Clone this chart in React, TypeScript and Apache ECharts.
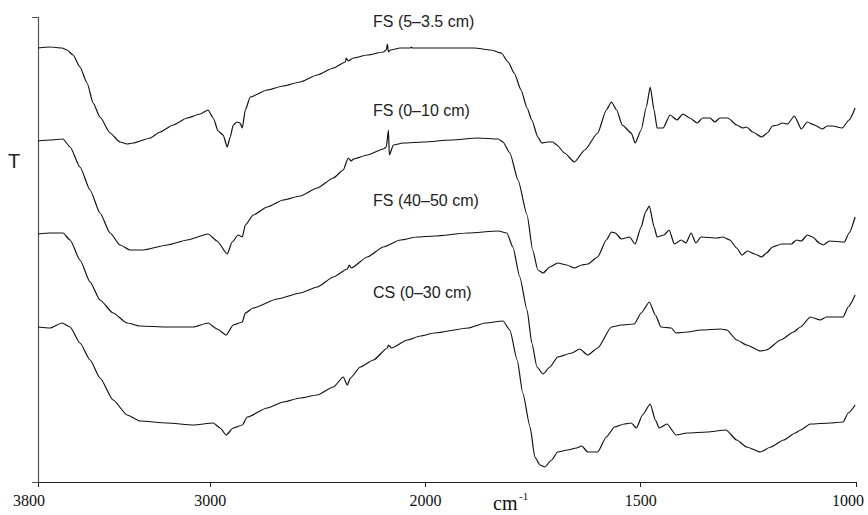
import React, { useEffect, useRef } from "react";
import * as echarts from "echarts";

// Wavenumber tick labels (cm-1); the axis is expanded 2x below 2000 cm-1
const tickWavenumbers = [3800, 3000, 2000, 1500, 1000];
const seriesNames = ["FS (5–3.5 cm)", "FS (0–10 cm)", "FS (40–50 cm)", "CS (0–30 cm)"];

// [wavenumber cm-1, transmittance (arbitrary, offset)]
const fs535 = [
  [3800, 434], [3744, 435], [3688, 434], [3665, 432], [3637, 427], [3605, 415], [3572, 399], [3544, 379],
  [3512, 365], [3465, 349], [3419, 340], [3386, 338], [3358, 339], [3279, 344], [3233, 350], [3172, 357],
  [3107, 364], [3047, 368], [3010, 372], [2986, 364], [2963, 351], [2940, 347], [2921, 335], [2907, 345],
  [2893, 357], [2875, 360], [2861, 359], [2851, 354], [2837, 372], [2814, 385], [2735, 392], [2661, 396],
  [2582, 400], [2503, 407], [2428, 414], [2372, 420], [2368, 424], [2359, 421], [2335, 424], [2270, 427],
  [2196, 430], [2182, 432], [2177, 438], [2172, 430], [2163, 432], [2117, 434], [2070, 434], [2066, 435],
  [2061, 434], [1979, 434], [1887, 434], [1848, 432], [1824, 429], [1808, 420], [1794, 409], [1778, 392],
  [1764, 374], [1753, 362], [1739, 345], [1730, 339], [1716, 340], [1704, 340], [1695, 337], [1677, 329],
  [1654, 320], [1630, 332], [1600, 349], [1580, 372], [1568, 380], [1556, 372], [1543, 357], [1522, 349],
  [1513, 339], [1499, 352], [1487, 375], [1478, 395], [1469, 372], [1462, 354], [1448, 354], [1432, 367],
  [1416, 362], [1402, 368], [1386, 364], [1369, 359], [1356, 364], [1339, 364], [1328, 360], [1316, 364],
  [1298, 364], [1277, 357], [1263, 354], [1254, 355], [1240, 350], [1219, 345], [1206, 349], [1194, 356],
  [1182, 357], [1171, 359], [1159, 358], [1143, 366], [1127, 353], [1113, 360], [1097, 357], [1078, 353],
  [1067, 356], [1055, 356], [1032, 354], [1016, 362], [1002, 374],
];

const fs010 = [
  [3800, 341], [3744, 342], [3684, 343], [3651, 335], [3605, 315], [3558, 292], [3512, 269], [3465, 249],
  [3419, 237], [3372, 232], [3312, 232], [3200, 237], [3107, 242], [3010, 248], [2968, 241], [2921, 228],
  [2898, 240], [2870, 247], [2851, 245], [2837, 257], [2800, 267], [2735, 275], [2661, 282], [2582, 286],
  [2503, 294], [2428, 304], [2382, 312], [2359, 324], [2345, 321], [2335, 323], [2270, 327], [2196, 333],
  [2182, 335], [2172, 352], [2168, 327], [2149, 337], [2103, 339], [2010, 340], [1940, 342], [1878, 344],
  [1831, 343], [1820, 340], [1804, 329], [1785, 302], [1764, 267], [1751, 232], [1739, 212], [1727, 209],
  [1711, 215], [1693, 219], [1672, 217], [1654, 214], [1637, 217], [1623, 218], [1600, 225], [1580, 242],
  [1568, 250], [1559, 249], [1545, 243], [1526, 245], [1513, 238], [1499, 255], [1489, 270], [1480, 276],
  [1469, 255], [1462, 245], [1446, 247], [1434, 252], [1422, 238], [1406, 242], [1395, 239], [1383, 249],
  [1372, 239], [1360, 245], [1323, 244], [1309, 245], [1293, 242], [1277, 234], [1265, 227], [1252, 231],
  [1235, 228], [1219, 225], [1208, 229], [1194, 235], [1173, 238], [1150, 238], [1138, 242], [1127, 241],
  [1113, 247], [1101, 245], [1085, 239], [1076, 237], [1062, 241], [1027, 240], [1016, 249], [1002, 265],
];

const fs4050 = [
  [3800, 248], [3744, 249], [3684, 249], [3651, 242], [3605, 222], [3558, 200], [3512, 182], [3451, 169],
  [3386, 159], [3326, 156], [3200, 155], [3079, 155], [3010, 159], [2968, 153], [2926, 147], [2893, 157],
  [2851, 160], [2837, 169], [2800, 174], [2689, 183], [2582, 189], [2503, 195], [2428, 205], [2363, 213],
  [2354, 217], [2345, 214], [2270, 225], [2196, 235], [2117, 242], [2038, 245], [1979, 246], [1901, 249],
  [1831, 251], [1811, 249], [1797, 235], [1781, 205], [1764, 172], [1753, 139], [1741, 115], [1727, 108],
  [1711, 115], [1693, 125], [1660, 129], [1642, 133], [1623, 127], [1600, 134], [1568, 155], [1545, 157],
  [1515, 158], [1499, 169], [1480, 180], [1466, 167], [1453, 155], [1429, 154], [1418, 149], [1392, 150],
  [1360, 152], [1314, 153], [1300, 152], [1277, 142], [1254, 137], [1222, 131], [1208, 132], [1175, 142],
  [1145, 150], [1129, 155], [1106, 165], [1083, 162], [1069, 165], [1030, 165], [1018, 175], [1002, 187],
];

const cs030 = [
  [3800, 155], [3744, 154], [3688, 159], [3651, 155], [3605, 139], [3558, 122], [3512, 104], [3451, 82],
  [3386, 67], [3326, 61], [3200, 59], [3079, 57], [2986, 59], [2954, 54], [2926, 47], [2893, 54],
  [2851, 57], [2828, 65], [2735, 74], [2661, 80], [2582, 84], [2503, 87], [2428, 95], [2382, 105],
  [2363, 97], [2349, 104], [2303, 115], [2242, 122], [2177, 134], [2172, 137], [2158, 134], [2084, 142],
  [2024, 146], [1979, 149], [1901, 154], [1861, 159], [1820, 161], [1804, 152], [1787, 122], [1774, 89],
  [1757, 55], [1746, 25], [1734, 17], [1723, 15], [1707, 22], [1693, 30], [1670, 32], [1649, 34],
  [1637, 36], [1623, 30], [1600, 30], [1580, 45], [1561, 55], [1538, 58], [1522, 59], [1510, 54],
  [1496, 67], [1478, 78], [1466, 62], [1457, 54], [1439, 58], [1418, 47], [1392, 49], [1346, 50],
  [1302, 52], [1277, 42], [1254, 35], [1222, 30], [1198, 35], [1168, 42], [1141, 49], [1129, 52],
  [1106, 58], [1060, 59], [1030, 60], [1018, 69], [1002, 77],
];

const allSeries = [fs535, fs010, fs4050, cs030];

// axis coordinate: linear above 2000 cm-1, doubled scale below 2000 cm-1
const toAxis = (w: number) => (w >= 2000 ? 3800 - w : 1800 + 2 * (2000 - w));
const fromAxis = (t: number) => (t <= 1800 ? 3800 - t : 2000 - (t - 1800) / 2);

export default function App() {
  const ref = useRef<HTMLDivElement>(null);
  useEffect(() => {
    document.body.style.margin = "0";
    if (!ref.current) return;
    const chart = echarts.init(ref.current, null, { renderer: "svg" });
    const serif = "'Liberation Serif', 'Times New Roman', serif";
    const sans = "'Liberation Sans', Arial, sans-serif";
    const tickAxis = tickWavenumbers.map(toAxis);
    const labelY = [21, 110, 200, 292];
    chart.setOption({
      animation: false,
      backgroundColor: "#fff",
      grid: { left: 38, right: 12, top: 17, bottom: 33, containLabel: false },
      xAxis: {
        type: "value",
        min: 0,
        max: 3800,
        axisLine: { show: true, onZero: false, lineStyle: { color: "#222", width: 1 } },
        axisTick: { show: true, customValues: tickAxis, length: 5, lineStyle: { color: "#222" } },
        splitLine: { show: false },
        axisLabel: {
          customValues: tickAxis,
          margin: 10,
          color: "#111",
          fontFamily: serif,
          fontSize: 16,
          formatter: (t: number) => {
            const w = Math.round(fromAxis(t));
            if (w === 3800) return "{l|" + w + "}";
            if (w === 1000) return "{r|" + w + "}";
            return String(w);
          },
          rich: {
            l: { fontFamily: serif, fontSize: 16, color: "#111", padding: [0, 18, 0, 0] },
            r: { fontFamily: serif, fontSize: 16, color: "#111", padding: [0, 16, 0, 0] },
          },
        },
      },
      yAxis: {
        type: "value",
        min: 0,
        max: 465,
        axisLine: { show: true, lineStyle: { color: "#555", width: 1.2 } },
        axisTick: { show: true, customValues: [0, 465], length: 6, lineStyle: { color: "#555" } },
        axisLabel: { show: false },
        splitLine: { show: false },
      },
      series: allSeries.map((d, i) => ({
        name: seriesNames[i],
        type: "line",
        data: d.map(([w, v]) => [toAxis(w), v]),
        symbol: "none",
        smooth: 0.2,
        smoothMonotone: "x",
        lineStyle: { color: "#111", width: 1.2 },
      })),
      graphic: [
        ...seriesNames.map((n, i) => ({
          type: "text",
          x: 373,
          y: labelY[i],
          style: { text: n, fontFamily: sans, fontSize: 16, fill: "#222", align: "left", verticalAlign: "middle" },
        })),
        {
          type: "text",
          x: 14,
          y: 161,
          style: { text: "T", fontFamily: sans, fontSize: 20, fill: "#222", align: "center", verticalAlign: "middle" },
        },
        {
          type: "text",
          x: 493,
          y: 503,
          style: { text: "cm", fontFamily: serif, fontSize: 20, fill: "#111", align: "left", verticalAlign: "middle" },
        },
        {
          type: "text",
          x: 519,
          y: 496,
          style: { text: "-1", fontFamily: serif, fontSize: 11, fill: "#111", align: "left", verticalAlign: "middle" },
        },
      ],
    });
    return () => chart.dispose();
  }, []);
  return <div ref={ref} style={{ width: 868, height: 515 }} />;
}
